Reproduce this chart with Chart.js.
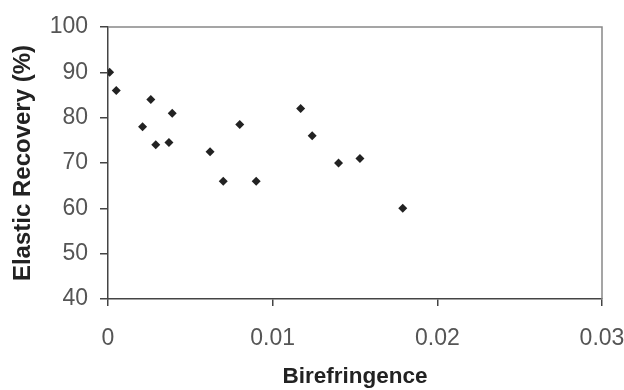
<!DOCTYPE html>
<html>
<head>
<meta charset="utf-8">
<script src="https://cdn.jsdelivr.net/npm/chart.js@4.4.1/dist/chart.umd.min.js"></script>
<style>
  html, body { margin: 0; padding: 0; background: #fff; }
  #wrap { width: 624px; height: 390px; }
</style>
</head>
<body>
<div id="wrap"><canvas id="c" width="624" height="390"></canvas></div>
<script>
// values
const birefringence = [0.0001, 0.0005, 0.0021, 0.0026, 0.0029, 0.0037, 0.0039, 0.0062, 0.0070,
                       0.0080, 0.0090, 0.0117, 0.0124, 0.0140, 0.0153, 0.0179];
const elasticRecovery = [90, 86, 78, 84, 74, 74.5, 81, 72.5, 66,
                         78.5, 66, 82, 76, 70, 71, 60];
const xTickLabels = ['0', '0.01', '0.02', '0.03'];
const yTickLabels = ['40', '50', '60', '70', '80', '90', '100'];

const points = birefringence.map((b, i) => ({x: b, y: elasticRecovery[i]}));

// thin grey frame on top and right of the plot
const frame = {
  id: 'frame',
  afterDraw: (chart) => {
    const {ctx, chartArea} = chart;
    ctx.save();
    ctx.strokeStyle = '#888';
    ctx.lineWidth = 1.5;
    ctx.beginPath();
    ctx.moveTo(chartArea.left, chartArea.top);
    ctx.lineTo(chartArea.right, chartArea.top);
    ctx.lineTo(chartArea.right, chartArea.bottom);
    ctx.stroke();
    ctx.restore();
  }
};

new Chart(document.getElementById('c'), {
  type: 'scatter',
  data: {
    datasets: [{
      data: points,
      pointStyle: 'rectRot',
      pointRadius: 4.5,
      pointBackgroundColor: '#222',
      pointBorderColor: '#222',
      pointBorderWidth: 0
    }]
  },
  options: {
    responsive: false,
    animation: false,
    layout: { padding: { left: 0, top: 27, right: 22, bottom: 0 } },
    plugins: { legend: { display: false }, tooltip: { enabled: false } },
    scales: {
      x: {
        type: 'linear',
        min: 0,
        max: 0.03,
        ticks: {
          stepSize: 0.01,
          color: '#555',
          padding: 19,
          font: { family: 'Liberation Sans', size: 23 },
          callback: (v, i) => xTickLabels[i]
        },
        grid: { drawOnChartArea: false, tickLength: 7, color: '#444', lineWidth: 1.5 },
        border: { color: '#444', width: 1.5 },
        title: {
          display: true,
          text: 'Birefringence',
          color: '#222',
          padding: { top: 0, bottom: 0 },
          font: { family: 'Liberation Sans', size: 22.5, weight: 'bold' }
        },
        afterFit: (s) => { s.height = 91; s.paddingLeft = 0; s.paddingRight = 0; }
      },
      y: {
        min: 40,
        max: 100,
        ticks: {
          stepSize: 10,
          color: '#555',
          padding: 12,
          font: { family: 'Liberation Sans', size: 23 },
          callback: (v, i) => yTickLabels[i]
        },
        grid: { drawOnChartArea: false, tickLength: 8, color: '#444', lineWidth: 1.5 },
        border: { color: '#444', width: 1.5 },
        title: {
          display: true,
          text: 'Elastic Recovery (%)',
          color: '#222',
          padding: { top: 9, bottom: 0 },
          font: { family: 'Liberation Sans', size: 24, weight: 'bold' }
        },
        afterFit: (s) => { s.width = 108; s.paddingTop = 0; s.paddingBottom = 0; }
      }
    }
  },
  plugins: [frame]
});
</script>
</body>
</html>
